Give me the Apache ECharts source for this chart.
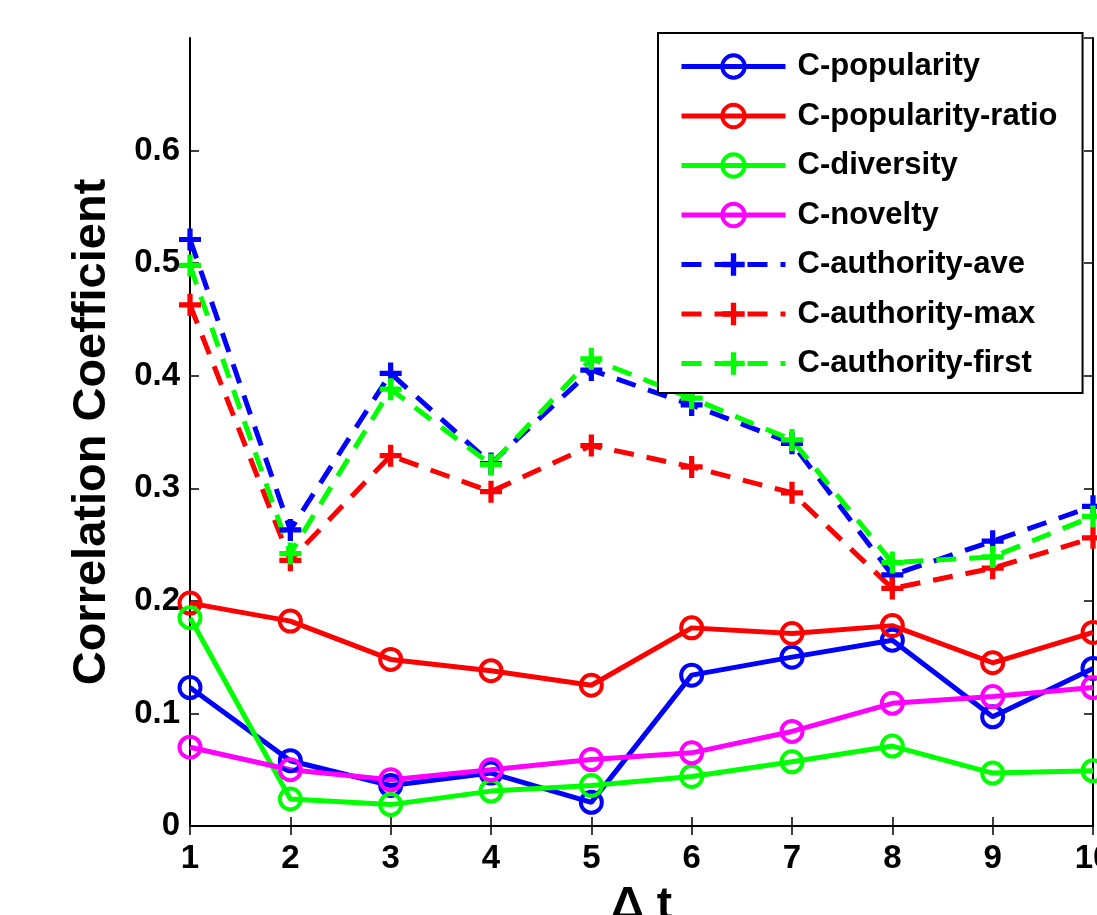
<!DOCTYPE html>
<html>
<head>
<meta charset="utf-8">
<script src="https://cdn.jsdelivr.net/npm/echarts@6/dist/echarts.min.js"></script>
<style>
  html, body { margin: 0; padding: 0; background: #fff; }
  #main { width: 1097px; height: 915px; }
</style>
</head>
<body>
<div id="main"></div>
<script>
// Δt 取值
const xData = ['1', '2', '3', '4', '5', '6', '7', '8', '9', '10'];
const yTicks = [0, 0.1, 0.2, 0.3, 0.4, 0.5, 0.6, 0.7];

const cPopularity      = [0.123, 0.058, 0.036, 0.047, 0.021, 0.134, 0.150, 0.165, 0.097, 0.140];
const cPopularityRatio = [0.198, 0.182, 0.148, 0.138, 0.125, 0.176, 0.171, 0.178, 0.145, 0.172];
const cDiversity       = [0.185, 0.024, 0.019, 0.031, 0.036, 0.044, 0.057, 0.071, 0.047, 0.049];
const cNovelty         = [0.070, 0.050, 0.041, 0.050, 0.059, 0.065, 0.084, 0.109, 0.115, 0.123];
const cAuthorityAve    = [0.521, 0.263, 0.402, 0.322, 0.405, 0.374, 0.340, 0.223, 0.253, 0.284];
const cAuthorityMax    = [0.463, 0.236, 0.329, 0.297, 0.338, 0.319, 0.296, 0.211, 0.229, 0.256];
const cAuthorityFirst  = [0.498, 0.242, 0.388, 0.321, 0.415, 0.380, 0.343, 0.234, 0.239, 0.275];

const FONT = '"Liberation Sans", Arial, sans-serif';
const PLUS = 'path://M8,0H13V8H21V13H13V21H8V13H0V8H8Z';

function circleSeries(name, data, color) {
    return {
        name: name,
        type: 'line',
        data: data,
        symbol: 'circle',
        symbolSize: 21,
        itemStyle: { color: 'rgba(0,0,0,0)', borderColor: color, borderWidth: 4 },
        lineStyle: { color: color, width: 5 }
    };
}
function plusSeries(name, data, color) {
    return {
        name: name,
        type: 'line',
        data: data,
        symbol: PLUS,
        symbolSize: 22,
        itemStyle: { color: color, borderWidth: 0 },
        lineStyle: { color: color, width: 5, type: [20, 13], cap: 'butt' }
    };
}

let myChart = echarts.init(document.getElementById('main'));

let axisLine = { show: true, lineStyle: { color: '#000', width: 2 } };
let axisTick = { show: true, inside: true, length: 9, lineStyle: { color: '#000', width: 1.5 } };

let option = {
    animation: false,
    backgroundColor: '#fff',
    textStyle: { fontFamily: FONT },
    grid: { left: 190, right: 4, top: 38, bottom: 89, outerBoundsMode: 'none', containLabel: false },
    legend: {
        orient: 'vertical',
        left: 658,
        top: 33,
        padding: [18, 25, 14, 21],
        itemWidth: 104,
        itemHeight: 28,
        itemGap: 18.5,
        backgroundColor: '#fff',
        borderColor: '#000',
        borderWidth: 2,
        borderRadius: 0,
        textStyle: { color: '#000', fontSize: 31, fontWeight: 'bold', padding: [0, 0, 0, 7], fontFamily: FONT },
        data: [
            { name: 'C-popularity', itemStyle: { borderWidth: 4 }, lineStyle: { width: 5 } },
            { name: 'C-popularity-ratio', itemStyle: { borderWidth: 4 }, lineStyle: { width: 5 } },
            { name: 'C-diversity', itemStyle: { borderWidth: 4 }, lineStyle: { width: 5 } },
            { name: 'C-novelty', itemStyle: { borderWidth: 4 }, lineStyle: { width: 5 } },
            { name: 'C-authority-ave', lineStyle: { width: 5 } },
            { name: 'C-authority-max', lineStyle: { width: 5 } },
            { name: 'C-authority-first', lineStyle: { width: 5 } }
        ]
    },
    xAxis: [
        {
            type: 'category',
            data: xData,
            boundaryGap: false,
            name: 'Δ t',
            nameLocation: 'middle',
            nameGap: 57,
            nameTextStyle: { fontSize: 46, fontWeight: 'bold', color: '#000', fontFamily: FONT },
            axisLine: axisLine,
            axisTick: axisTick,
            axisLabel: { color: '#000', fontSize: 33, fontWeight: 'bold', margin: 16, fontFamily: FONT },
            splitLine: { show: false }
        },
        {
            type: 'category',
            data: xData,
            boundaryGap: false,
            position: 'top',
            axisLine: axisLine,
            axisTick: axisTick,
            axisLabel: { show: false },
            splitLine: { show: false }
        }
    ],
    yAxis: [
        {
            type: 'value',
            min: yTicks[0],
            max: yTicks[yTicks.length - 1],
            interval: 0.1,
            name: 'Correlation Coefficient',
            nameLocation: 'middle',
            nameGap: 74,
            nameTextStyle: { fontSize: 47, fontWeight: 'bold', color: '#000', fontFamily: FONT },
            axisLine: axisLine,
            axisTick: axisTick,
            axisLabel: { color: '#000', fontSize: 33, fontWeight: 'bold', margin: 10, showMaxLabel: false, fontFamily: FONT },
            splitLine: { show: false }
        },
        {
            type: 'value',
            min: yTicks[0],
            max: yTicks[yTicks.length - 1],
            interval: 0.1,
            position: 'right',
            axisLine: axisLine,
            axisTick: axisTick,
            axisLabel: { show: false },
            splitLine: { show: false }
        }
    ],
    series: [
        circleSeries('C-popularity', cPopularity, '#0000ff'),
        circleSeries('C-popularity-ratio', cPopularityRatio, '#ff0000'),
        circleSeries('C-diversity', cDiversity, '#00ff00'),
        circleSeries('C-novelty', cNovelty, '#ff00ff'),
        plusSeries('C-authority-ave', cAuthorityAve, '#0000ff'),
        plusSeries('C-authority-max', cAuthorityMax, '#ff0000'),
        plusSeries('C-authority-first', cAuthorityFirst, '#00ff00')
    ]
};

myChart.setOption(option);
</script>
</body>
</html>
